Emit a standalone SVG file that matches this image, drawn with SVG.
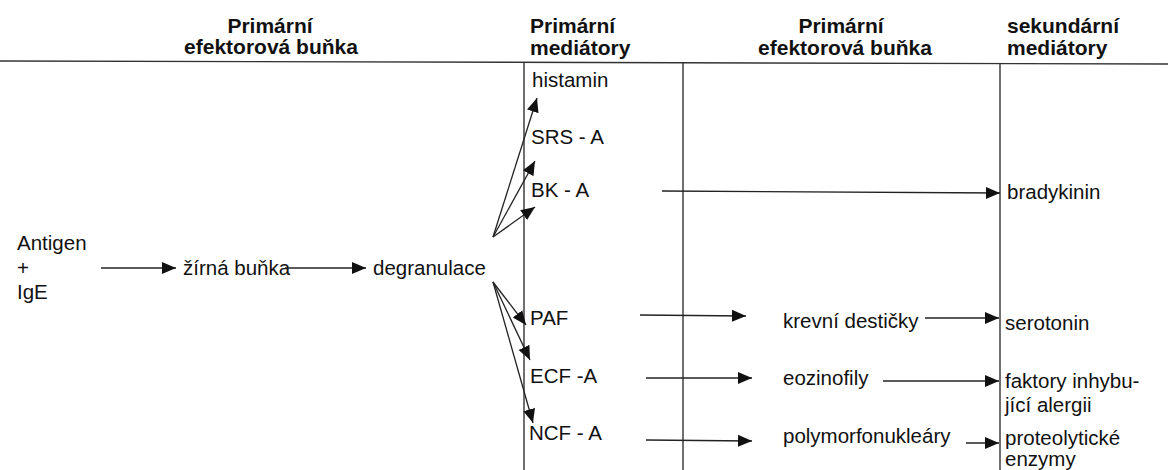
<svg xmlns="http://www.w3.org/2000/svg" width="1168" height="470" viewBox="0 0 1168 470">
<style>
text{font-family:"Liberation Sans",Arial,sans-serif;font-size:20.5px;fill:#111}
.h{font-weight:bold;font-size:21px}
.c{text-anchor:middle}
.ln{stroke:#333;stroke-width:1.4;fill:none}
.ar{stroke:#222;stroke-width:1.3;fill:none;marker-end:url(#ah)}
</style>
<defs>
<marker id="ah" markerUnits="userSpaceOnUse" markerWidth="16" markerHeight="14" viewBox="0 0 16 14" refX="14" refY="7" orient="auto">
<path d="M0,1 L14,7 L0,13 z" fill="#111"/>
</marker>
</defs>
<rect width="1168" height="470" fill="#fff"/>
<g id="grid">
<line class="ln" x1="0" y1="61" x2="1168" y2="64"/>
<line class="ln" x1="524" y1="62" x2="524" y2="470"/>
<line class="ln" x1="683" y1="62" x2="683" y2="470"/>
<line class="ln" x1="1000" y1="64" x2="1000" y2="470"/>
</g>
<g id="headers">
<text class="h c" x="270" y="33">Primární</text>
<text class="h c" x="271" y="54">efektorová buňka</text>
<text class="h" x="530" y="33">Primární</text>
<text class="h" x="530" y="55">mediátory</text>
<text class="h c" x="841" y="33">Primární</text>
<text class="h c" x="845" y="55">efektorová buňka</text>
<text class="h" x="1007" y="33">sekundární</text>
<text class="h" x="1007" y="55">mediátory</text>
</g>
<g id="antigen"><text x="17" y="250">Antigen</text><text x="17" y="275">+</text><text x="17" y="299">IgE</text></g>
<g id="zirna"><text x="183" y="275">žírná buňka</text></g>
<g id="degranulace"><text x="373" y="275">degranulace</text></g>
<g id="histamin"><text x="532" y="87">histamin</text></g>
<g id="srs"><text x="531" y="144">SRS - A</text></g>
<g id="bk"><text x="531" y="197">BK - A</text></g>
<g id="paf"><text x="530" y="325">PAF</text></g>
<g id="ecf"><text x="530" y="383">ECF -A</text></g>
<g id="ncf"><text x="529" y="440">NCF - A</text></g>
<g id="krevni"><text x="783" y="328">krevní destičky</text></g>
<g id="eozinofily"><text x="783" y="385">eozinofily</text></g>
<g id="polymorfo"><text x="783" y="443">polymorfonukleáry</text></g>
<g id="bradykinin"><text x="1007" y="199">bradykinin</text></g>
<g id="serotonin"><text x="1005" y="330">serotonin</text></g>
<g id="faktory"><text x="1005" y="388">faktory inhybu-</text><text x="1005" y="412">jící alergii</text></g>
<g id="proteo"><text x="1005" y="445">proteolytické</text><text x="1005" y="466">enzymy</text></g>
<g id="connectors">
<line class="ar" x1="101" y1="268" x2="176" y2="268"/>
<line class="ar" x1="285" y1="268" x2="366" y2="268"/>
<line class="ar" x1="493" y1="237" x2="537" y2="98"/>
<line class="ar" x1="493" y1="237" x2="535" y2="161"/>
<line class="ar" x1="493" y1="237" x2="535" y2="207"/>
<line class="ar" x1="493" y1="282" x2="526" y2="325"/>
<line class="ar" x1="493" y1="282" x2="530" y2="360"/>
<line class="ar" x1="493" y1="282" x2="533" y2="423"/>
<line class="ar" x1="662" y1="191" x2="1000" y2="193"/>
<line class="ar" x1="640" y1="315" x2="746" y2="316"/>
<line class="ar" x1="925" y1="318" x2="999" y2="318"/>
<line class="ar" x1="646" y1="378" x2="752" y2="378"/>
<line class="ar" x1="883" y1="381" x2="999" y2="381"/>
<line class="ar" x1="646" y1="440" x2="752" y2="441"/>
<line class="ar" x1="966" y1="443" x2="999" y2="443"/>
</g>
</svg>
